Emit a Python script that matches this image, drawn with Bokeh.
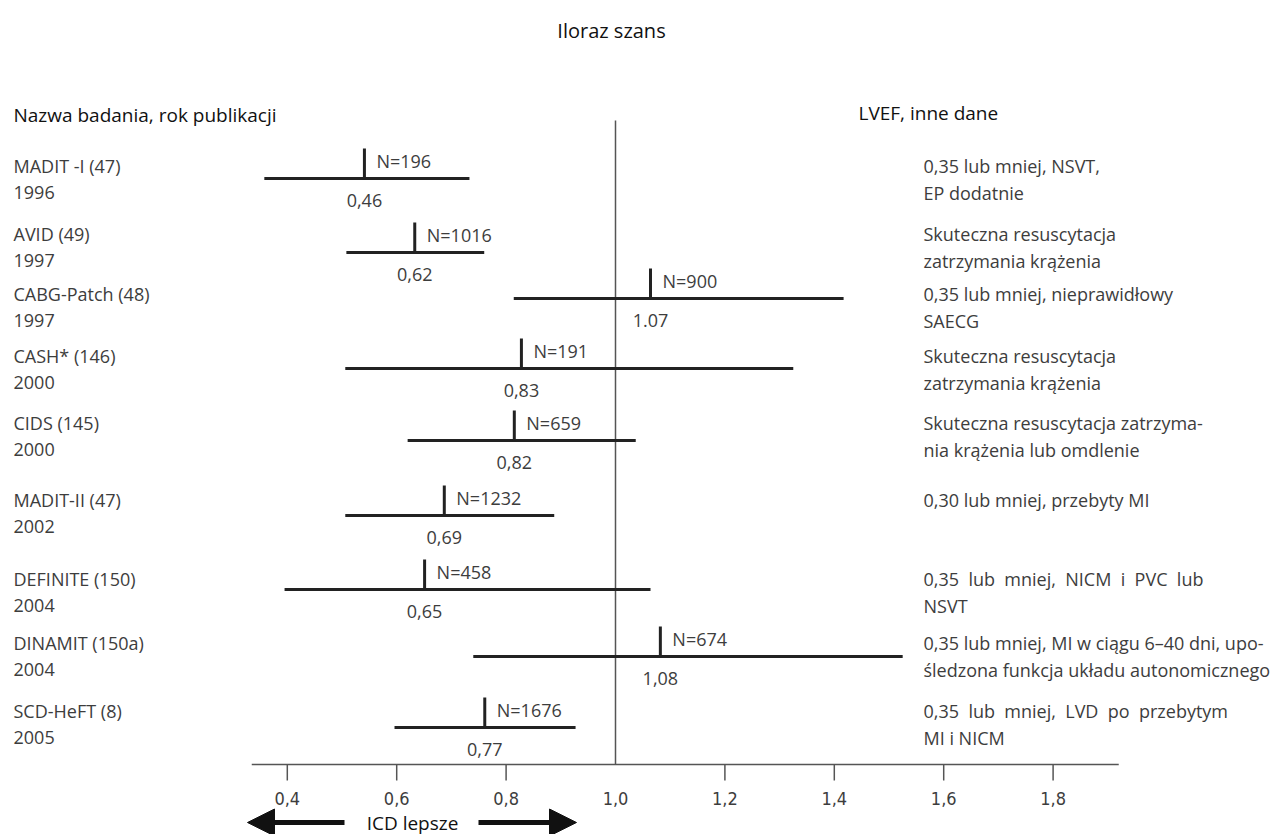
from bokeh.plotting import figure
from bokeh.models import Range1d, Arrow, NormalHead
from bokeh.core.properties import value
from bokeh.embed import file_html
from bokeh.resources import INLINE

# ---------------- data ----------------
studies = ["MADIT -I (47)", "AVID (49)", "CABG-Patch (48)", "CASH* (146)", "CIDS (145)",
           "MADIT-II (47)", "DEFINITE (150)", "DINAMIT (150a)", "SCD-HeFT (8)"]
years = ["1996", "1997", "1997", "2000", "2000", "2002", "2004", "2004", "2005"]
or_point = [0.541, 0.633, 1.064, 0.828, 0.815, 0.687, 0.651, 1.082, 0.761]
ci_low = [0.358, 0.508, 0.814, 0.506, 0.620, 0.506, 0.395, 0.740, 0.596]
ci_high = [0.733, 0.760, 1.417, 1.325, 1.037, 0.888, 1.064, 1.525, 0.927]
or_labels = ["0,46", "0,62", "1.07", "0,83", "0,82", "0,69", "0,65", "1,08", "0,77"]
n_values = [196, 1016, 900, 191, 659, 1232, 458, 674, 1676]
lvef_lines = [
    ["0,35 lub mniej, NSVT,", "EP dodatnie"],
    ["Skuteczna resuscytacja", "zatrzymania krążenia"],
    ["0,35 lub mniej, nieprawidłowy", "SAECG"],
    ["Skuteczna resuscytacja", "zatrzymania krążenia"],
    ["Skuteczna resuscytacja zatrzyma-", "nia krążenia lub omdlenie"],
    ["0,30 lub mniej, przebyty MI"],
    ["0,35  lub  mniej,  NICM  i  PVC  lub", "NSVT"],
    ["0,35 lub mniej, MI w ciągu 6–40 dni, upo-", "śledzona funkcja układu autonomicznego"],
    ["0,35  lub  mniej,  LVD  po  przebytym", "MI i NICM"],
]
axis_ticks = [0.4, 0.6, 0.8, 1.2, 1.4, 1.6, 1.8]
axis_tick_labels = ["0,4", "0,6", "0,8", "1,0", "1,2", "1,4", "1,6", "1,8"]
axis_label_values = [0.4, 0.6, 0.8, 1.0, 1.2, 1.4, 1.6, 1.8]
title_text = "Iloraz szans"
left_header = "Nazwa badania, rok publikacji"
right_header = "LVEF, inne dane"
arrow_text = "ICD lepsze"

# ---------------- layout (page pixels) ----------------
W, H = 1271, 834
X_REF_PX, PX_PER_UNIT = 615.0, 547.0


def px_to_or(px):
    return 1.0 + (px - X_REF_PX) / PX_PER_UNIT


row_text_y = [165, 233, 293, 355, 422, 499, 578, 642, 710]
row_line_y = [178, 252, 298, 368, 440, 515, 589, 656, 727]
line_gap = 27
axis_y = 764
ref_top = 120
BODY = value("Open Sans")
BODY_COLOR = "#3d3d3d"
HEAD_COLOR = "#111111"
BODY_SIZE = "18px"
NARROW = value("DejaVu Sans Condensed, Roboto, sans-serif")

p = figure(width=W, height=H, output_backend="svg", toolbar_location=None,
           x_range=Range1d(px_to_or(0), px_to_or(W)),
           y_range=Range1d(H, 0), min_border=0)
p.axis.visible = False
p.grid.visible = False
p.outline_line_color = None
p.background_fill_color = "white"
p.border_fill_color = "white"

# reference line at OR = 1
p.segment(x0=[1.0], y0=[ref_top], x1=[1.0], y1=[axis_y], line_color="#555555", line_width=1.5)

# axis line and ticks
p.segment(x0=[0.335], y0=[axis_y], x1=[1.92], y1=[axis_y], line_color="#555555", line_width=1.5)
p.segment(x0=axis_ticks, y0=[axis_y] * len(axis_ticks), x1=axis_ticks,
          y1=[axis_y + 16] * len(axis_ticks), line_color="#555555", line_width=1.5)
p.text(x=axis_label_values, y=[798] * len(axis_label_values), text=axis_tick_labels,
       text_font=NARROW, text_font_size="18px",
       text_color=BODY_COLOR, text_align="center", text_baseline="middle")

# confidence interval lines
p.segment(x0=ci_low, y0=row_line_y, x1=ci_high, y1=row_line_y, line_color="#222222", line_width=3)
# point estimate marks
p.segment(x0=or_point, y0=row_line_y, x1=or_point, y1=[y - 30 for y in row_line_y],
          line_color="#222222", line_width=3)
# N labels
p.text(x=or_point, y=[y - 18 for y in row_line_y], text=[f"N={n}" for n in n_values],
       x_offset=12, text_font=BODY, text_font_size=BODY_SIZE, text_color=BODY_COLOR,
       text_align="left", text_baseline="middle")
# OR labels
p.text(x=or_point, y=[y + 22 for y in row_line_y], text=or_labels,
       text_font=BODY, text_font_size=BODY_SIZE, text_color=BODY_COLOR,
       text_align="center", text_baseline="middle")

# left column
left_x = px_to_or(13)
p.text(x=[left_x] * len(studies), y=row_text_y, text=studies, text_font=BODY,
       text_font_size=BODY_SIZE, text_color=BODY_COLOR, text_baseline="middle")
p.text(x=[left_x] * len(years), y=[y + line_gap for y in row_text_y], text=years, text_font=BODY,
       text_font_size=BODY_SIZE, text_color=BODY_COLOR, text_baseline="middle")

# right column
right_x = px_to_or(923)
rx, ry, rt = [], [], []
for y, lines in zip(row_text_y, lvef_lines):
    for k, ln in enumerate(lines):
        rx.append(right_x)
        ry.append(y + k * line_gap)
        rt.append(ln.replace("  ", " \u00a0"))
p.text(x=rx, y=ry, text=rt, text_font=BODY, text_font_size=BODY_SIZE,
       text_color=BODY_COLOR, text_baseline="middle")

# headers and title
p.text(x=[left_x], y=[114], text=[left_header], text_font=BODY, text_font_size="19px",
       text_color=HEAD_COLOR, text_baseline="middle")
p.text(x=[px_to_or(858)], y=[112], text=[right_header], text_font=BODY, text_font_size="19px",
       text_color=HEAD_COLOR, text_baseline="middle")
p.text(x=[px_to_or(611)], y=[30], text=[title_text], text_font=BODY, text_font_size="20px",
       text_color=HEAD_COLOR, text_align="center", text_baseline="middle")

# ICD lepsze arrows
p.add_layout(Arrow(x_start=px_to_or(344), y_start=822, x_end=px_to_or(247), y_end=822,
                   line_width=5, line_color="#111111",
                   end=NormalHead(size=27, fill_color="#111111", line_color="#111111")))
p.add_layout(Arrow(x_start=px_to_or(478), y_start=822, x_end=px_to_or(576), y_end=822,
                   line_width=5, line_color="#111111",
                   end=NormalHead(size=27, fill_color="#111111", line_color="#111111")))
p.text(x=[px_to_or(412)], y=[822], text=[arrow_text], text_font=BODY,
       text_font_size="19px", text_color=HEAD_COLOR, text_align="center", text_baseline="middle")

open("out.html", "w").write(file_html(p, INLINE))
